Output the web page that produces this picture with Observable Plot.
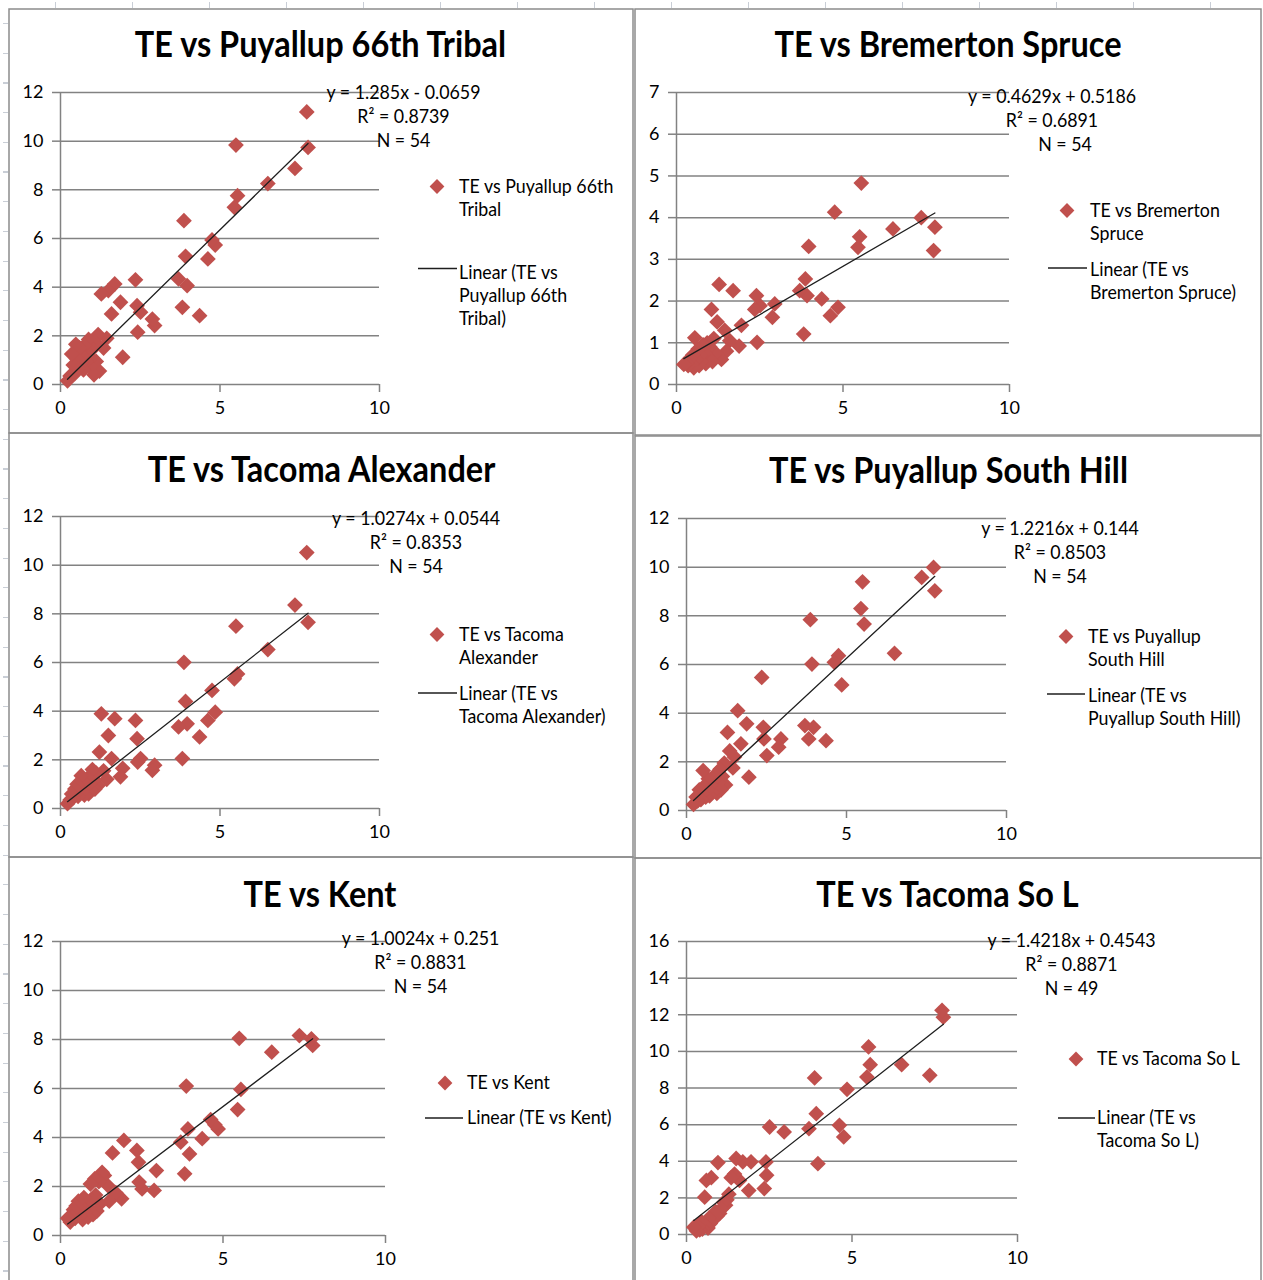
<!DOCTYPE html>
<html>
<head>
<meta charset="utf-8">
<script src="https://cdn.jsdelivr.net/npm/d3@7"></script>
<script src="https://cdn.jsdelivr.net/npm/@observablehq/plot@0.6"></script>
<style>
  html, body { margin: 0; padding: 0; background: #fff; }
  #sheet { position: relative; width: 1263px; height: 1280px; overflow: hidden; background: #fff; font-family: Lato, "Open Sans", sans-serif; }
  /* faint spreadsheet cell edges peeking out around the chart block */
  .rowmarks { position: absolute; left: 3px; top: 0; width: 5px; height: 1280px;
    background: repeating-linear-gradient(to bottom, transparent 0 23px, #c9ced6 23px 24.2px, transparent 24.2px 29.7px); }
  .colmarks { position: absolute; left: 0; top: 2px; width: 1263px; height: 6px;
    background: repeating-linear-gradient(to right, transparent 0 55px, #c9ced6 55px 56.2px, transparent 56.2px 77px); }
  #sheet svg.plot { position: absolute; }
  #overlay { position: absolute; left: 0; top: 0; pointer-events: none; }
</style>
</head>
<body>
<div id="sheet">
  <div class="rowmarks"></div>
  <div class="colmarks"></div>
</div>
<script>
// Total exposure (TE) readings, shared x values for every monitoring site
const te = [7.76, 7.72, 7.35, 6.50, 5.55, 5.50, 5.45, 4.85, 4.75, 4.62, 4.36, 3.97, 3.92, 3.87, 3.82, 3.70,
  2.95, 2.88, 2.51, 2.42, 2.40, 2.35, 1.95, 1.88, 1.70, 1.60, 1.50, 1.45, 1.35, 1.28,
  1.22, 1.18, 1.12, 1.08, 1.05, 1.00, 0.95, 0.92, 0.88, 0.85, 0.80, 0.75, 0.72, 0.68, 0.65, 0.60,
  0.55, 0.52, 0.48, 0.45, 0.40, 0.35, 0.30, 0.22];

// Site readings paired with te (null = no reading that day)
const puyallup66th = [9.74, 11.2, 8.88, 8.26, 7.76, 9.84, 7.28, 5.73, 5.94, 5.16, 2.83, 4.06, 5.27, 6.73, 3.17, 4.34,
  2.42, 2.69, 2.97, 2.15, 3.24, 4.30, 1.12, 3.38, 4.13, 2.90, 3.86, 1.90, 1.50, 3.72,
  0.55, 2.05, 0.95, 1.75, 0.40, 1.45, 1.10, 0.75, 1.85, 1.30, 0.95, 1.60, 0.60, 1.20, 0.85, 1.50,
  0.65, 1.05, 1.65, 0.45, 0.80, 1.25, 0.35, 0.15];
const bremertonSpruce = [3.77, 3.21, 4.00, 3.73, 4.83, 3.54, 3.29, 1.85, 4.13, 1.65, 2.05, 3.31, 2.13, 2.53, 1.21, 2.25,
  1.93, 1.61, 1.89, 1.01, 2.13, 1.80, 1.42, 0.92, 2.25, 1.05, 0.80, 1.30, 0.60, 2.40,
  1.50, 0.75, 1.10, 0.55, 1.80, 0.90, 0.65, 1.00, 0.50, 0.75, 0.95, 0.55, 0.70, 0.45, 0.85, 0.60,
  1.12, 0.40, 0.70, 0.50, 0.62, 0.45, 0.52, 0.48];
const tacomaAlexander = [7.65, 10.52, 8.36, 6.53, 5.53, 7.49, 5.33, 3.96, 4.85, 3.62, 2.94, 3.48, 4.40, 6.01, 2.05, 3.35,
  1.78, 1.57, 2.05, 1.91, 2.87, 3.62, 1.65, 1.30, 3.69, 2.05, 3.00, 1.20, 1.55, 3.89,
  2.32, 0.95, 1.45, 0.80, 1.20, 1.60, 0.75, 1.05, 0.60, 1.25, 0.90, 0.55, 1.10, 0.70, 1.35, 0.85,
  0.50, 1.00, 0.65, 0.80, 0.45, 0.60, 0.35, 0.20];
const puyallupSouthHill = [9.03, 9.99, 9.58, 6.46, 7.66, 9.40, 8.30, 5.16, 6.36, 6.09, 2.87, 3.42, 6.02, 7.84, 2.94, 3.49,
  2.94, 2.60, 2.26, 2.94, 3.42, 5.47, 1.37, 3.56, 2.74, 4.10, 2.20, 1.75, 2.45, 3.21,
  1.05, 1.95, 1.40, 0.85, 1.70, 1.15, 0.70, 1.50, 0.95, 1.25, 0.75, 1.05, 0.60, 1.30, 0.85, 0.55,
  1.00, 1.64, 0.70, 0.45, 0.85, 0.40, 0.55, 0.25];
const kent = [7.76, 8.03, 8.16, 7.48, 5.96, 8.05, 5.14, 4.35, 4.52, 4.73, 3.95, 3.33, 4.35, 6.10, 2.52, 3.81,
  2.65, 1.84, 1.90, 2.18, 2.99, 3.47, 3.88, 1.50, 1.75, 3.37, 1.40, 2.05, 2.45, 2.58,
  1.30, 2.20, 1.00, 1.65, 2.31, 0.85, 1.45, 2.10, 1.10, 0.75, 1.30, 0.95, 1.55, 0.65, 1.15, 0.80,
  1.40, 0.95, 1.20, 0.70, 1.05, 0.75, 0.55, 0.70];
const tacomaSoL = [11.87, 12.24, 8.69, 9.27, 9.27, 10.24, 8.60, 7.93, 5.33, 5.96, null, 3.87, 6.60, 8.55, null, 5.78,
  5.60, null, 5.87, 3.24, 3.96, 2.51, 3.97, 2.40, 3.97, 2.95, 4.15, 3.30, 3.10, 2.20,
  1.90, 1.60, 1.75, null, 1.40, 1.15, 3.93, 1.00, 1.25, null, 0.80, 3.10, 0.60, 0.90, 0.35, 2.95,
  2.04, 0.55, 0.30, 0.70, 0.25, 0.45, 0.20, 0.40];

const siteNames = ["Puyallup 66th Tribal", "Bremerton Spruce", "Tacoma Alexander", "Puyallup South Hill", "Kent", "Tacoma So L"];
const siteValues = [puyallup66th, bremertonSpruce, tacomaAlexander, puyallupSouthHill, kent, tacomaSoL];

// Least-squares trend lines reported for each site
const slopes = [1.285, 0.4629, 1.0274, 1.2216, 1.0024, 1.4218];
const intercepts = [-0.0659, 0.5186, 0.0544, 0.144, 0.251, 0.4543];
const rSquared = ["0.8739", "0.6891", "0.8353", "0.8503", "0.8831", "0.8871"];

// Axis ranges and tick labels
const yMax = [12, 7, 12, 12, 12, 16];
const yStep = [2, 1, 2, 2, 2, 2];
const xTicks = [0, 5, 10];

// Legend wording, wrapped the way the legend boxes break it
const seriesLegend = [["TE vs Puyallup 66th", "Tribal"], ["TE vs Bremerton", "Spruce"], ["TE vs Tacoma", "Alexander"],
  ["TE vs Puyallup", "South Hill"], ["TE vs Kent"], ["TE vs Tacoma So L"]];
const trendLegend = [["Linear (TE vs", "Puyallup 66th", "Tribal)"], ["Linear (TE vs", "Bremerton Spruce)"],
  ["Linear (TE vs", "Tacoma Alexander)"], ["Linear (TE vs", "Puyallup South Hill)"], ["Linear (TE vs Kent)"],
  ["Linear (TE vs", "Tacoma So L)"]];

// Page layout of the six chart boxes (pixels)
const layout = [
  {box: [9, 9, 633, 433], plot: [60, 92, 379, 384], titleX: 320.5, titleY: 57, eqX: 403.5, eqY: 98.5, nShift: 0,
   legX: 459, legY: 192.5, dia: [437, 186.5], trY: 278.5, seg: [418, 457, 268.5]},
  {box: [635, 9, 1261, 435], plot: [676, 92, 1009, 384], titleX: 948, titleY: 57, eqX: 1052, eqY: 103, nShift: 13,
   legX: 1090, legY: 217, dia: [1067, 210.5], trY: 276, seg: [1048, 1087, 268]},
  {box: [9, 433, 633, 857], plot: [60, 516, 379, 808], titleX: 321.5, titleY: 482, eqX: 416, eqY: 525, nShift: 0,
   legX: 459, legY: 641, dia: [437, 634.5], trY: 700, seg: [418, 457, 693]},
  {box: [635, 436, 1261, 858], plot: [686, 518, 1006, 810], titleX: 948.5, titleY: 483, eqX: 1060, eqY: 535, nShift: 0,
   legX: 1088, legY: 643, dia: [1066, 636.5], trY: 702, seg: [1047, 1085, 694]},
  {box: [9, 857, 633, 1292], plot: [60, 941, 385, 1235], titleX: 320, titleY: 907, eqX: 420.5, eqY: 945, nShift: 0,
   legX: 467, legY: 1089, dia: [445, 1083], trY: 1124, seg: [425, 463, 1118]},
  {box: [635, 858, 1261, 1292], plot: [686, 941, 1017, 1234], titleX: 947.5, titleY: 907, eqX: 1071.5, eqY: 947, nShift: 0,
   legX: 1097, legY: 1065, dia: [1076, 1059], trY: 1124, seg: [1058, 1095, 1118]}
];

const GRID = "#828282";
const MARKER = "#c0504d";
const TREND = "#1e1e1e";
const FONT = "Lato, 'Open Sans', sans-serif";
const SMALL = 17.8;

const sheet = document.getElementById("sheet");

siteValues.forEach((values, i) => {
  const L = layout[i];
  const [bx0, by0, bx1, by1] = L.box;
  const [px0, py0, px1, py1] = L.plot;
  const points = te.map((x, j) => ({x, y: values[j]})).filter(d => d.y != null);
  const [xLo, xHi] = d3.extent(points, d => d.x);
  const trend = [xLo, xHi].map(x => ({x, y: slopes[i] * x + intercepts[i]}));
  const yTicks = d3.range(0, yMax[i] + yStep[i] / 2, yStep[i]);

  const chart = Plot.plot({
    width: bx1 - bx0,
    height: by1 - by0,
    marginLeft: px0 - bx0,
    marginRight: bx1 - px1,
    marginTop: py0 - by0,
    marginBottom: by1 - py1,
    x: {domain: [0, 10], axis: null},
    y: {domain: [0, yMax[i]], axis: null},
    style: {background: "transparent", fontFamily: FONT, fontSize: "18px", color: "#000", maxWidth: "none", overflow: "visible"},
    marks: [
      Plot.gridY(yTicks, {stroke: GRID, strokeOpacity: 1, strokeWidth: 1.5}),
      Plot.ruleX([0], {stroke: GRID, strokeWidth: 1.5}),
      Plot.axisY(yTicks, {anchor: "left", tickSize: 8, tickPadding: 9, stroke: GRID, strokeWidth: 1.5, label: null}),
      Plot.axisX(xTicks, {anchor: "bottom", tickSize: 8, tickPadding: 9, stroke: GRID, strokeWidth: 1.5, label: null}),
      Plot.dot(points, {x: "x", y: "y", symbol: "diamond2", r: 7.1, fill: MARKER}),
      Plot.line(trend, {x: "x", y: "y", stroke: TREND, strokeWidth: 1.3})
    ]
  });
  chart.classList.add("plot");
  chart.style.left = bx0 + "px";
  chart.style.top = by0 + "px";
  sheet.appendChild(chart);
});

// Frames, titles, trend-line labels and legends
const overlay = d3.select(sheet).append("svg")
  .attr("id", "overlay").attr("width", 1263).attr("height", 1280)
  .style("font-family", FONT);

// Text placed by its baseline, drawn slightly tall like the spreadsheet rendering
function label(g, x, y, str, {size = SMALL, weight = 400, anchor = "start", stretch = 1.08} = {}) {
  return g.append("text")
    .attr("transform", `translate(${x},${y}) scale(1,${stretch})`)
    .attr("text-anchor", anchor).attr("font-size", size).attr("font-weight", weight)
    .attr("fill", "#000").text(str);
}

siteValues.forEach((values, i) => {
  const L = layout[i];
  const [bx0, by0, bx1, by1] = L.box;
  const n = values.filter(v => v != null).length;
  const g = overlay.append("g");

  g.append("rect").attr("x", bx0).attr("y", by0).attr("width", bx1 - bx0).attr("height", by1 - by0)
    .attr("fill", "none").attr("stroke", "#8c8c8c").attr("stroke-width", 1.5);

  label(g, L.titleX, L.titleY, `TE vs ${siteNames[i]}`, {size: 32.5, weight: 700, anchor: "middle", stretch: 1.1});

  const b = intercepts[i];
  const eqLines = [
    `y = ${slopes[i]}x ${b < 0 ? "-" : "+"} ${Math.abs(b)}`,
    `R² = ${rSquared[i]}`,
    `N = ${n}`
  ];
  eqLines.forEach((t, k) => {
    label(g, L.eqX + (k === 2 ? L.nShift : 0), L.eqY + k * 24.2, t, {anchor: "middle"});
  });

  const [dx, dy] = L.dia;
  const h = 7.4;
  g.append("path").attr("d", `M${dx},${dy - h}L${dx + h},${dy}L${dx},${dy + h}L${dx - h},${dy}Z`).attr("fill", MARKER);
  seriesLegend[i].forEach((t, k) => label(g, L.legX, L.legY + k * 23.2, t));

  const [sx0, sx1, sy] = L.seg;
  g.append("line").attr("x1", sx0).attr("x2", sx1).attr("y1", sy).attr("y2", sy)
    .attr("stroke", TREND).attr("stroke-width", 1.6);
  trendLegend[i].forEach((t, k) => label(g, L.legX, L.trY + k * 23.2, t));
});
</script>
</body>
</html>
